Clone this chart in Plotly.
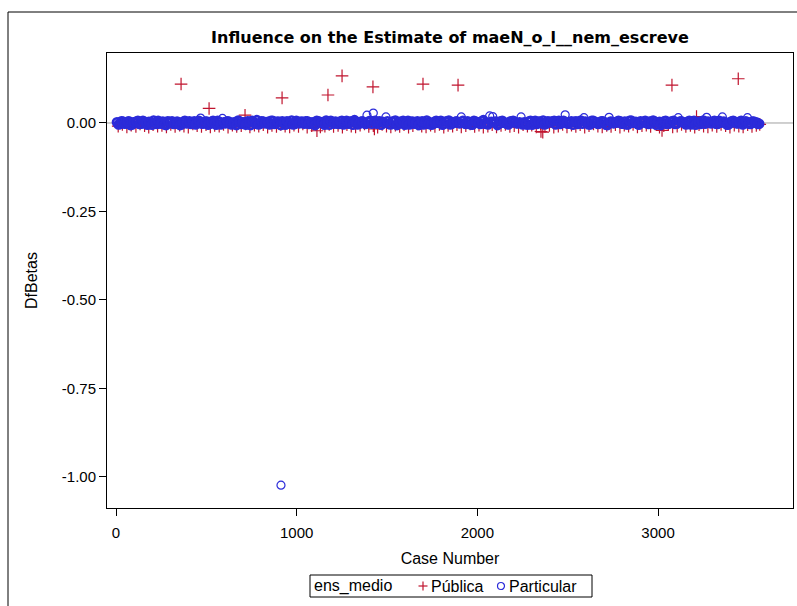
import plotly.graph_objects as go

# ---------------- data ----------------
# Particular (blue circles): dense band near zero
part_cases_a = [
    5, 22, 38, 55, 71, 90, 104, 121, 140, 157,
    173, 190, 208, 226, 241, 259, 277, 294, 310, 329,
    346, 362, 381, 398, 415, 433, 450, 468, 485, 502,
    519, 537, 554, 571, 589, 606, 624, 641, 658, 676,
    693, 711, 728, 745, 763, 780, 798, 815, 832, 850,
    867, 885, 902, 920, 937, 954, 972, 989, 1007, 1024,
    1041, 1059, 1076, 1094, 1111, 1128, 1146, 1163, 1181, 1198,
    1215, 1233, 1250, 1268, 1285, 1302, 1320, 1337, 1355, 1372,
    1389, 1407, 1424, 1442, 1459, 1476, 1494, 1511, 1529, 1546,
    1563, 1581, 1598, 1616, 1633, 1650, 1668, 1685, 1703, 1720,
    1737, 1755, 1772, 1790, 1807, 1824, 1842, 1859, 1877, 1894,
    1911, 1929, 1946, 1964, 1981, 1998, 2016, 2033, 2051, 2068,
    2085, 2103, 2120, 2138, 2155, 2172, 2190, 2207, 2225, 2242,
    2259, 2277, 2294, 2312, 2329, 2346, 2364, 2381, 2399, 2416,
    2433, 2451, 2468, 2486, 2503, 2520, 2538, 2555, 2573, 2590,
    2607, 2625, 2642, 2660, 2677, 2694, 2712, 2729, 2747, 2764,
    2781, 2799, 2816, 2834, 2851, 2868, 2886, 2903, 2921, 2938,
    2955, 2973, 2990, 3008, 3025, 3042, 3060, 3077, 3095, 3112,
    3129, 3147, 3164, 3182, 3199, 3216, 3234, 3251, 3269, 3286,
    3303, 3321, 3338, 3356, 3373, 3390, 3408, 3425, 3443, 3460,
    3477, 3495, 3512, 3530, 3547, 3560,
    913,
]
part_dfbetas_a = [
    0.002, -0.003, 0.004, -0.001, 0.005, -0.004, 0.001, 0.006, -0.002, 0.003,
    -0.005, 0.002, 0.007, -0.003, 0.000, 0.004, -0.006, 0.003, 0.005, -0.002,
    0.001, -0.004, 0.006, 0.000, -0.003, 0.005, 0.002, 0.014, -0.001, 0.004,
    -0.002, 0.006, -0.005, 0.003, 0.013, -0.001, 0.004, -0.004, 0.002, 0.007,
    -0.003, 0.001, 0.005, -0.006, 0.002, 0.008, -0.002, 0.004, 0.000, -0.004,
    0.006, -0.001, 0.003, 0.005, -0.005, 0.002, 0.007, -0.003, 0.001, 0.004,
    -0.002, 0.005, 0.000, -0.004, 0.006, 0.003, -0.001, 0.007, -0.005, 0.002,
    0.004, -0.003, 0.006, 0.001, -0.002, 0.005, 0.008, -0.004, 0.003, 0.000,
    0.022, 0.006, 0.028, -0.002, 0.005, 0.003, 0.017, -0.003, 0.004, 0.007,
    -0.001, 0.002, -0.005, 0.006, 0.003, -0.002, 0.005, 0.000, -0.004, 0.007,
    0.002, -0.003, 0.006, 0.001, -0.005, 0.004, 0.007, -0.002, 0.003, 0.000,
    0.017, -0.001, 0.005, -0.004, 0.006, 0.002, -0.003, 0.008, 0.001, 0.020,
    0.018, 0.004, -0.002, 0.006, 0.000, -0.004, 0.005, 0.003, -0.001, 0.017,
    0.002, -0.005, 0.006, 0.001, -0.003, 0.004, 0.007, -0.002, 0.003, 0.005,
    -0.004, 0.006, 0.001, 0.023, -0.002, 0.005, 0.003, -0.003, 0.007, 0.015,
    0.000, -0.004, 0.006, 0.002, -0.001, 0.005, -0.005, 0.016, 0.003, 0.001,
    0.006, -0.002, 0.004, -0.004, 0.007, 0.001, -0.003, 0.005, 0.002, -0.001,
    0.004, 0.007, -0.005, 0.003, 0.000, 0.006, -0.002, 0.004, -0.003, 0.015,
    0.005, -0.001, 0.003, -0.004, 0.006, 0.002, -0.003, 0.007, 0.016, 0.000,
    0.004, -0.002, 0.006, 0.017, 0.001, -0.004, 0.005, 0.003, -0.001, 0.006,
    0.002, 0.015, -0.003, 0.004, 0.001, -0.002,
    -1.023,
]
part_cases_b = [
    14, 30, 47, 63, 80, 97, 113, 130, 149, 165,
    182, 199, 217, 233, 250, 268, 286, 302, 319, 338,
    354, 371, 390, 406, 424, 441, 459, 476, 494, 510,
    528, 545, 562, 580, 597, 615, 632, 650, 667, 684,
    702, 719, 737, 754, 771, 789, 806, 824, 841, 858,
    876, 893, 911, 928, 946, 963, 980, 998, 1015, 1033,
    1050, 1067, 1085, 1102, 1120, 1137, 1154, 1172, 1189, 1207,
    1224, 1241, 1259, 1276, 1294, 1311, 1328, 1346, 1363, 1381,
    1398, 1415, 1433, 1450, 1468, 1485, 1502, 1520, 1537, 1555,
    1572, 1589, 1607, 1624, 1642, 1659, 1676, 1694, 1711, 1729,
    1746, 1763, 1781, 1798, 1816, 1833, 1850, 1868, 1885, 1903,
    1920, 1937, 1955, 1972, 1990, 2007, 2024, 2042, 2059, 2077,
    2094, 2111, 2129, 2146, 2164, 2181, 2198, 2216, 2233, 2251,
    2268, 2285, 2303, 2320, 2338, 2355, 2372, 2390, 2407, 2425,
    2442, 2459, 2477, 2494, 2512, 2529, 2546, 2564, 2581, 2599,
    2616, 2633, 2651, 2668, 2686, 2703, 2720, 2738, 2755, 2773,
    2790, 2807, 2825, 2842, 2860, 2877, 2894, 2912, 2929, 2947,
    2964, 2981, 2999, 3016, 3034, 3051, 3068, 3086, 3103, 3121,
    3138, 3155, 3173, 3190, 3208, 3225, 3242, 3260, 3277, 3295,
    3312, 3329, 3347, 3364, 3382, 3399, 3416, 3434, 3451, 3469,
    3486, 3503, 3521, 3538, 3553,
]
part_dfbetas_b = [
    -0.004, 0.005, -0.002, 0.003, -0.006, 0.002, 0.004, -0.003, 0.006, -0.001,
    0.003, -0.005, 0.001, 0.006, -0.002, -0.004, 0.005, 0.000, -0.003, 0.004,
    -0.006, 0.003, -0.001, 0.005, 0.002, -0.004, 0.006, -0.002, 0.004, -0.005,
    0.003, -0.001, 0.006, -0.004, 0.002, 0.005, -0.003, 0.001, -0.006, 0.004,
    0.002, -0.005, 0.003, 0.006, -0.002, -0.004, 0.005, -0.001, 0.003, 0.006,
    -0.003, 0.004, -0.006, 0.001, 0.005, -0.002, -0.004, 0.006, -0.001, 0.003,
    0.005, -0.003, 0.002, -0.006, 0.004, 0.001, -0.005, 0.003, 0.006, -0.002,
    -0.001, 0.004, -0.004, 0.006, 0.002, -0.005, 0.003, -0.002, 0.005, -0.003,
    0.004, -0.002, 0.006, 0.003, -0.005, 0.001, 0.005, -0.004, 0.002, -0.006,
    0.003, 0.006, -0.002, -0.004, 0.004, 0.001, -0.006, 0.005, 0.002, -0.003,
    -0.005, 0.003, 0.001, 0.006, -0.002, 0.004, -0.004, 0.002, 0.005, -0.001,
    0.006, -0.003, 0.002, -0.005, 0.004, 0.001, 0.005, -0.002, -0.004, 0.003,
    0.003, -0.006, 0.005, 0.001, -0.003, 0.004, 0.006, -0.001, 0.002, -0.004,
    -0.002, 0.004, -0.005, 0.006, 0.003, -0.001, -0.004, 0.005, 0.002, 0.006,
    0.004, -0.003, 0.006, -0.001, 0.002, -0.005, 0.005, 0.003, -0.002, 0.004,
    -0.004, 0.006, 0.001, -0.003, 0.005, 0.002, -0.006, 0.004, -0.001, 0.003,
    0.005, -0.002, -0.004, 0.006, 0.001, 0.003, -0.005, 0.002, 0.006, -0.003,
    -0.001, 0.004, 0.002, -0.006, 0.005, -0.003, 0.003, 0.006, -0.002, 0.004,
    0.002, -0.004, 0.006, 0.001, -0.005, 0.003, 0.005, -0.002, 0.004, -0.001,
    0.006, -0.003, 0.001, 0.004, -0.005, 0.002, 0.006, -0.001, 0.003, -0.004,
    0.005, -0.002, 0.004, 0.001, -0.003,
]

# Pública (red plus signs)
pub_cases = [
    12, 35, 60, 84, 110, 133, 158, 181, 205, 230,
    254, 279, 303, 327, 352, 376, 400, 425, 449, 473,
    498, 522, 546, 571, 595, 620, 644, 668, 693, 717,
    741, 766, 790, 815, 839, 863, 888, 912, 936, 961,
    985, 1010, 1034, 1058, 1083, 1107, 1131, 1156, 1180, 1204,
    1229, 1253, 1278, 1302, 1326, 1351, 1375, 1399, 1424, 1448,
    1473, 1497, 1521, 1546, 1570, 1594, 1619, 1643, 1668, 1692,
    1716, 1741, 1765, 1790, 1814, 1838, 1863, 1887, 1911, 1936,
    1960, 1985, 2009, 2033, 2058, 2082, 2106, 2131, 2155, 2180,
    2204, 2228, 2253, 2277, 2301, 2326, 2350, 2374, 2399, 2423,
    2448, 2472, 2496, 2521, 2545, 2569, 2594, 2618, 2643, 2667,
    2691, 2716, 2740, 2764, 2789, 2813, 2837, 2862, 2886, 2911,
    2935, 2959, 2984, 3008, 3032, 3057, 3081, 3106, 3130, 3154,
    3179, 3203, 3227, 3252, 3276, 3300, 3325, 3349, 3374, 3398,
    3422, 3447, 3471, 3496, 3520, 3544, 3563,
    360, 515, 714, 919, 1112, 1173, 1251, 1422, 1430, 1699,
    1893, 2352, 2362, 3022, 3077, 3213, 3444,
]
pub_dfbetas = [
    -0.009, -0.004, -0.011, -0.006, -0.010, -0.003, -0.008, -0.012, -0.005, -0.009,
    -0.007, -0.011, -0.004, -0.010, -0.006, -0.009, -0.012, -0.003, -0.008, -0.010,
    -0.005, -0.011, -0.007, -0.009, -0.004, -0.012, -0.006, -0.010, -0.008, -0.003,
    -0.011, -0.006, -0.009, -0.005, -0.012, -0.007, -0.010, -0.004, -0.009, -0.011,
    -0.006, -0.010, -0.003, -0.012, -0.008, -0.005, -0.011, -0.009, -0.004, -0.010,
    -0.007, -0.012, -0.005, -0.009, -0.011, -0.006, -0.003, -0.010, -0.008, -0.012,
    -0.004, -0.009, -0.011, -0.006, -0.010, -0.005, -0.012, -0.008, -0.003, -0.009,
    -0.011, -0.006, -0.010, -0.004, -0.012, -0.007, -0.009, -0.005, -0.011, -0.008,
    -0.003, -0.010, -0.006, -0.012, -0.009, -0.005, -0.011, -0.007, -0.004, -0.010,
    -0.008, -0.012, -0.005, -0.009, -0.006, -0.011, -0.003, -0.010, -0.007, -0.012,
    -0.009, -0.004, -0.011, -0.006, -0.010, -0.005, -0.012, -0.008, -0.003, -0.009,
    -0.011, -0.007, -0.010, -0.005, -0.012, -0.006, -0.009, -0.004, -0.011, -0.008,
    -0.006, -0.010, -0.003, -0.012, -0.008, -0.005, -0.011, -0.009, -0.004, -0.010,
    -0.007, -0.012, -0.005, -0.009, -0.011, -0.006, -0.010, -0.004, -0.008, -0.012,
    -0.006, -0.009, -0.011, -0.005, -0.010, -0.007, -0.004,
    0.110, 0.041, 0.022, 0.071, -0.022, 0.079, 0.133, 0.102, -0.017, 0.110,
    0.107, -0.024, -0.026, -0.021, 0.107, 0.018, 0.125,
]

x_ticks = [0, 1000, 2000, 3000]
y_ticks = [0.0, -0.25, -0.5, -0.75, -1.0]
x_range = [-50, 3747]
y_range = [-1.0876, 0.1977]

title_text = "Influence on the Estimate of maeN_o_l__nem_escreve"
legend_title = "ens_medio"
series_names = ["Pública", "Particular"]

RED = "#C0142E"
BLUE = "#2B2BD9"
FONT = "Liberation Sans"

# plot area in pixels (for converting legend positions)
PL, PR, PT, PB = 107, 793, 53, 508
W, H = 797, 606


def px_x(px):
    return (px - PL) / (PR - PL)


def px_y(py):
    return (PB - py) / (PB - PT)


part_x = part_cases_a + part_cases_b
part_y = part_dfbetas_a + part_dfbetas_b
# overlapping circles in the dense band render heavier than isolated ones
part_lw = [2.6 if abs(v) < 0.01 else 1.2 for v in part_y]

fig = go.Figure()
fig.add_trace(go.Scatter(
    x=pub_cases, y=pub_dfbetas, mode="markers", name=series_names[0],
    marker=dict(symbol="cross-thin", size=9, color=RED,
                line=dict(color=RED, width=1.2)),
    showlegend=False,
))
fig.add_trace(go.Scatter(
    x=part_x, y=part_y, mode="markers", name=series_names[1],
    marker=dict(symbol="circle-open", size=8, color=BLUE,
                line=dict(color=BLUE, width=part_lw)),
    showlegend=False,
))

# reference line at 0
fig.add_shape(type="line", xref="paper", x0=0, x1=1, yref="y", y0=0, y1=0,
              line=dict(color="#A0A0A0", width=1), layer="below")
# outer frame (left and top edges of the graph border)
fig.add_shape(type="path", xref="paper", yref="paper",
              path="M %.4f,-0.30 L %.4f,%.4f L 1.02,%.4f" % (px_x(8), px_x(8), px_y(12), px_y(12)),
              line=dict(color="black", width=1))

# legend box (drawn manually to match the SAS layout)
fig.add_shape(type="rect", xref="paper", yref="paper",
              x0=px_x(310), x1=px_x(592), y0=px_y(597), y1=px_y(575),
              line=dict(color="black", width=1), fillcolor="white")
leg_y = px_y(586)
fig.add_shape(type="line", xref="paper", yref="paper", xsizemode="pixel", ysizemode="pixel",
              xanchor=px_x(423), yanchor=leg_y, x0=-4.5, x1=4.5, y0=0, y1=0,
              line=dict(color=RED, width=1.2))
fig.add_shape(type="line", xref="paper", yref="paper", xsizemode="pixel", ysizemode="pixel",
              xanchor=px_x(423), yanchor=leg_y, x0=0, x1=0, y0=-4.5, y1=4.5,
              line=dict(color=RED, width=1.2))
fig.add_shape(type="circle", xref="paper", yref="paper", xsizemode="pixel", ysizemode="pixel",
              xanchor=px_x(501), yanchor=leg_y, x0=-3.5, x1=3.5, y0=-3.5, y1=3.5,
              line=dict(color=BLUE, width=1.2))
for txt, xpx in [(legend_title, 312), (series_names[0], 429), (series_names[1], 507)]:
    fig.add_annotation(text=txt, xref="paper", yref="paper", x=px_x(xpx), y=leg_y,
                       xanchor="left", yanchor="middle", showarrow=False,
                       font=dict(family=FONT, size=16, color="black"))

fig.update_layout(
    width=W, height=H,
    margin=dict(l=PL, r=W - PR, t=PT, b=H - PB),
    paper_bgcolor="white", plot_bgcolor="white",
    font=dict(family=FONT, size=15, color="black"),
    title=dict(text="<b>" + title_text + "</b>", x=450 / W, xanchor="center",
               y=1 - 37 / H, yanchor="middle",
               font=dict(family="DejaVu Sans", size=16, color="black")),
    showlegend=False,
)
fig.update_xaxes(range=x_range, tickvals=x_ticks, ticktext=[str(v) for v in x_ticks],
                 ticks="outside", ticklen=7, tickwidth=1, tickcolor="black",
                 showline=True, linecolor="black", linewidth=1, mirror=True,
                 showgrid=False, zeroline=False, ticklabelstandoff=4,
                 title=dict(text="Case Number", standoff=12, font=dict(size=16)),
                 tickfont=dict(size=15))
fig.update_yaxes(range=y_range, tickvals=y_ticks,
                 ticktext=["%.2f" % v for v in y_ticks],
                 ticks="outside", ticklen=7, tickwidth=1, tickcolor="black",
                 showline=True, linecolor="black", linewidth=1, mirror=True,
                 showgrid=False, zeroline=False,
                 title=dict(text="DfBetas", standoff=20, font=dict(size=16)),
                 tickfont=dict(size=15))

fig.write_html("out.html", config={"displayModeBar": False},
               post_script="document.body.style.margin='0';document.body.style.overflow='hidden';")
